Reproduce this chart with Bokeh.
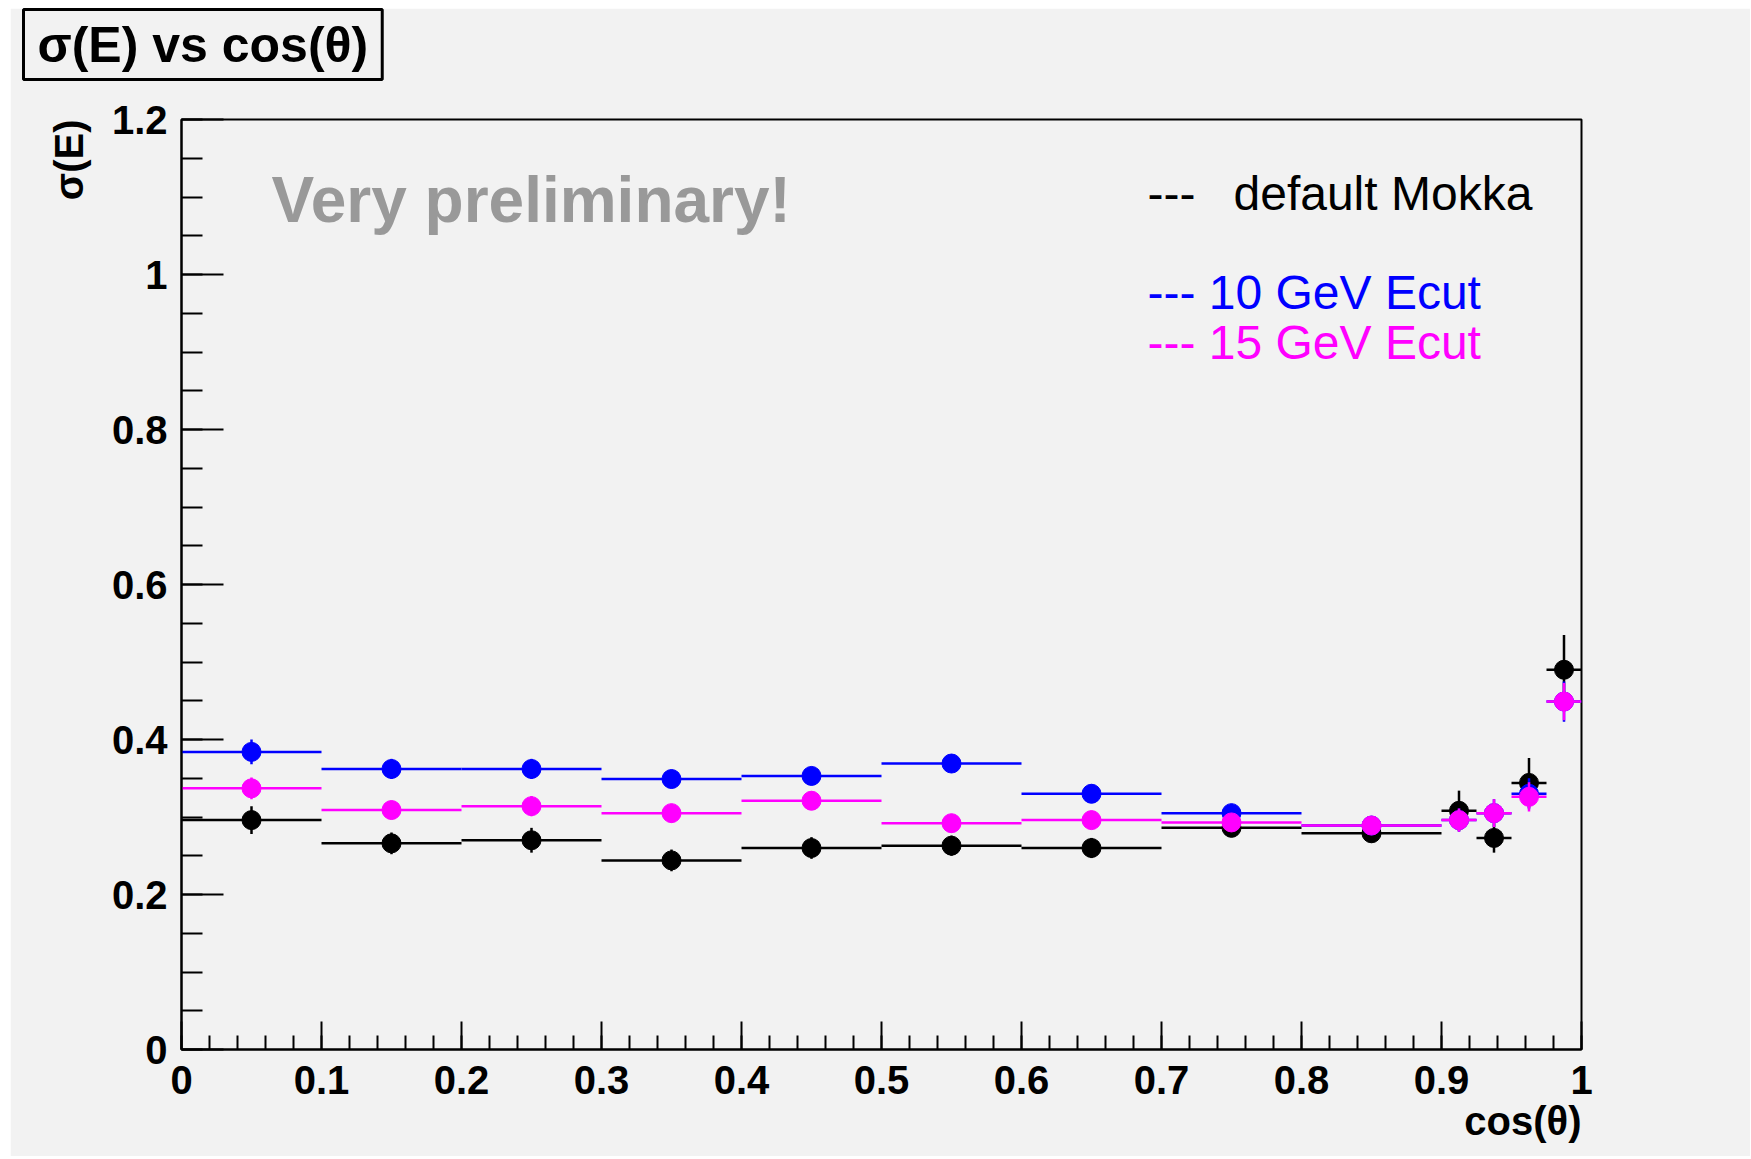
import math
from bokeh.plotting import figure
from bokeh.models import Range1d, SingleIntervalTicker, NumeralTickFormatter, Label, Title
from bokeh.embed import file_html
from bokeh.resources import INLINE

# ---- data ----
bin_lo = [0.0, 0.1, 0.2, 0.3, 0.4, 0.5, 0.6, 0.7, 0.8, 0.9, 0.925, 0.95, 0.975]
bin_hi = [0.1, 0.2, 0.3, 0.4, 0.5, 0.6, 0.7, 0.8, 0.9, 0.925, 0.95, 0.975, 1.0]

default_mokka = [0.296, 0.266, 0.270, 0.244, 0.260, 0.263, 0.260, 0.286, 0.279, 0.308, 0.273, 0.344, 0.490]
default_err = [0.018, 0.014, 0.016, 0.014, 0.014, 0.013, 0.013, 0.012, 0.012, 0.026, 0.019, 0.032, 0.045]

ecut10 = [0.384, 0.362, 0.362, 0.349, 0.353, 0.369, 0.330, 0.305, 0.289, 0.296, 0.305, 0.330, 0.449]
ecut10_err = [0.016, 0.013, 0.013, 0.012, 0.012, 0.012, 0.012, 0.012, 0.011, 0.015, 0.018, 0.020, 0.026]

ecut15 = [0.337, 0.309, 0.314, 0.305, 0.321, 0.292, 0.296, 0.293, 0.289, 0.296, 0.305, 0.326, 0.449]
ecut15_err = [0.014, 0.012, 0.013, 0.012, 0.012, 0.012, 0.012, 0.011, 0.011, 0.015, 0.018, 0.019, 0.024]

x_ticks_major = 0.1
y_ticks_major = 0.2

title_text = "σ(E) vs cos(θ)"
x_title = "cos(θ)"
y_title = "σ(E)"
watermark = "Very preliminary!"

BG = "#f2f2f2"
FONT = "Liberation Sans"

p = figure(width=1740, height=1148, output_backend="svg", toolbar_location=None,
           title=None, x_range=Range1d(0, 1), y_range=Range1d(0, 1.2 + 1e-9),
           min_border_left=171, min_border_right=169, min_border_top=111, min_border_bottom=107)
p.margin = (8, 0, 0, 10)
p.background_fill_color = BG
p.border_fill_color = BG
p.outline_line_color = "black"
p.outline_line_width = 2
p.xgrid.visible = False
p.ygrid.visible = False

xa = p.xaxis[0]
xa.ticker = SingleIntervalTicker(interval=x_ticks_major, num_minor_ticks=5)
xa.formatter = NumeralTickFormatter(format="0.[0]")
xa.major_tick_in = 28
xa.major_tick_out = 0
xa.minor_tick_in = 14
xa.minor_tick_out = 0
xa.major_label_standoff = 16

ya = p.yaxis[0]
ya.ticker = SingleIntervalTicker(interval=y_ticks_major, num_minor_ticks=4)
ya.formatter = NumeralTickFormatter(format="0.[0]")
ya.major_tick_in = 42
ya.major_tick_out = 0
ya.minor_tick_in = 21
ya.minor_tick_out = 0
ya.major_label_standoff = 14

for ax in (xa, ya):
    ax.axis_line_color = "black"
    ax.axis_line_width = 2
    ax.major_tick_line_color = "black"
    ax.major_tick_line_width = 2
    ax.minor_tick_line_color = "black"
    ax.minor_tick_line_width = 2
    ax.major_label_text_font = FONT
    ax.major_label_text_font_style = "bold"
    ax.major_label_text_font_size = "40px"
    ax.major_label_text_color = "black"

# axis titles (ROOT style: at the far end of each axis)
p.add_layout(Title(text=x_title, align="right", text_font=FONT, text_font_style="bold",
                   text_font_size="40px", text_color="black", standoff=0), "below")
p.add_layout(Title(text=y_title, align="right", text_font=FONT, text_font_style="bold",
                   text_font_size="40px", text_color="black", standoff=36), "left")

# spacer between frame and the boxed canvas title
p.add_layout(Title(text="\u00a0", text_font_size="2px", standoff=34), "above")
# boxed canvas title (top-left)
p.add_layout(Title(text=title_text, align="left", vertical_align="top", offset=-158, text_font=FONT,
                   text_font_style="bold", text_font_size="50px", text_color="black", standoff=0,
                   background_fill_color=BG, border_line_color="black", border_line_width=3,
                   padding=dict(left=14, right=14, top=7, bottom=7)), "above")

centers = [(a + b) / 2 for a, b in zip(bin_lo, bin_hi)]

def draw(vals, errs, color):
    p.segment(x0=bin_lo, x1=bin_hi, y0=vals, y1=vals, line_color=color, line_width=2.5)
    p.segment(x0=centers, x1=centers, y0=[v - e for v, e in zip(vals, errs)],
              y1=[v + e for v, e in zip(vals, errs)], line_color=color, line_width=2.5)
    p.scatter(centers, vals, size=19, fill_color=color, line_color=color, marker="circle")

draw(default_mokka, default_err, "black")
draw(ecut10, ecut10_err, "#0000ff")
draw(ecut15, ecut15_err, "#ff00ff")

def xd(px):
    return (px - 181) / 1400.0

def yd(py):
    return (1049 - py) / 775.0

p.add_layout(Label(x=xd(271), y=yd(199), text=watermark, text_align="left", text_baseline="alphabetic",
                   text_font=FONT, text_font_style="bold", text_font_size="64px", text_color="#999999"))

p.add_layout(Label(x=xd(1147), y=yd(193), text="---", text_align="left", text_baseline="alphabetic",
                   text_font=FONT, text_font_size="48px", text_color="black"))
p.add_layout(Label(x=xd(1233), y=yd(193), text="default Mokka", text_align="left", text_baseline="alphabetic",
                   text_font=FONT, text_font_size="48px", text_color="black"))
p.add_layout(Label(x=xd(1147), y=yd(292), text="--- 10 GeV Ecut", text_align="left", text_baseline="alphabetic",
                   text_font=FONT, text_font_size="48px", text_color="#0000ff"))
p.add_layout(Label(x=xd(1147), y=yd(342), text="--- 15 GeV Ecut", text_align="left", text_baseline="alphabetic",
                   text_font=FONT, text_font_size="48px", text_color="#ff00ff"))

open("out.html", "w").write(file_html(p, INLINE))
